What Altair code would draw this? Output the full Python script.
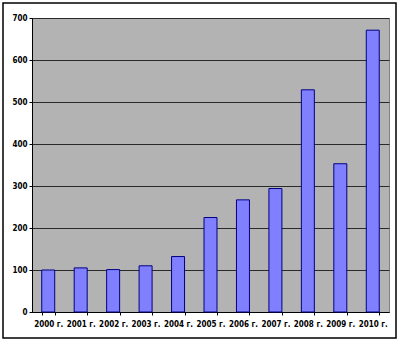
import altair as alt
import pandas as pd

years = ["2000 г.", "2001 г.", "2002 г.", "2003 г.", "2004 г.", "2005 г.",
         "2006 г.", "2007 г.", "2008 г.", "2009 г.", "2010 г."]
values = [100, 105, 101, 110, 132, 225, 267, 294, 529, 353, 671]
y_ticks = [0, 100, 200, 300, 400, 500, 600, 700]

df = pd.DataFrame({"year": years, "value": values})

W, H = 357, 294
L, T = 32, 18
FONT = "DejaVu Sans Condensed, DejaVu Sans"

frame = alt.Chart(pd.DataFrame({"a": [0]})).mark_rect(
    fillOpacity=0, stroke="black", strokeWidth=1.5, clip=False
).encode(
    x=alt.value(3 - L), x2=alt.value(396 - L),
    y=alt.value(3 - T), y2=alt.value(338 - T),
)

bars = alt.Chart(df).mark_bar(
    fill="#8080ff", stroke="#000080", strokeWidth=1
).encode(
    x=alt.X("year:N", sort=years, title=None,
            scale=alt.Scale(paddingInner=0.6, paddingOuter=0.3),
            axis=alt.Axis(labelAngle=0, labelFont=FONT, labelFontWeight="bold",
                          labelFontSize=8, labelColor="black", labelOverlap=False,
                          tickBand="extent", tickSize=3, tickColor="black",
                          domainColor="black", labelPadding=5, grid=False)),
    y=alt.Y("value:Q", title=None,
            scale=alt.Scale(domain=[0, 700], nice=False),
            axis=alt.Axis(values=y_ticks, labelFont=FONT, labelFontWeight="bold",
                          labelFontSize=8, labelColor="black", tickSize=3,
                          tickColor="black", domainColor="black", labelPadding=2,
                          grid=True, gridColor="#2a2a2a", gridWidth=1)),
)

chart = alt.layer(frame, bars).properties(
    width=W, height=H,
    background="white",
    autosize=alt.AutoSizeParams(type="none"),
    padding={"left": L, "top": T, "right": 401 - L - W, "bottom": 345 - T - H},
).configure_view(fill="#b3b3b3", stroke="#808080")

chart.save("out.html", embed_options={"renderer": "svg", "actions": False})
